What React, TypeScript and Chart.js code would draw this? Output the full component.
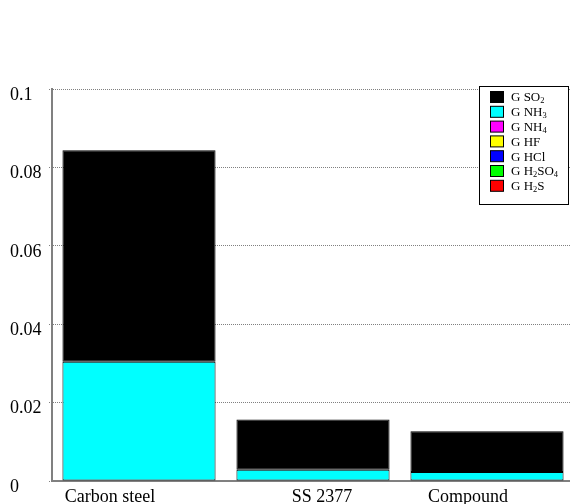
import React, { useEffect, useRef } from "react";
import { Chart, registerables } from "chart.js";

Chart.register(...registerables);

const categories = ["Carbon steel", "SS 2377", "Compound"];
const seriesLabels = ["G H2S", "G H2SO4", "G HCl", "G HF", "G NH4", "G NH3", "G SO2"];
const seriesColors = ["#ff0000", "#00ff00", "#0000ff", "#ffff00", "#ff00ff", "#00ffff", "#000000"];
const h2s = [0, 0, 0];
const h2so4 = [0, 0, 0];
const hcl = [0, 0, 0];
const hf = [0, 0, 0];
const nh4 = [0, 0, 0];
const nh3 = [0.0304, 0.0029, 0.0023];
const so2 = [0.054, 0.0128, 0.0104];
const seriesValues = [h2s, h2so4, hcl, hf, nh4, nh3, so2];
const yTicks = [0, 0.02, 0.04, 0.06, 0.08, 0.1];

const FONT = "'Liberation Serif', 'Times New Roman', serif";

// x label placement tweaks (relative to category center)
const xLabelShift = [-29, 9, -19];

function drawRich(ctx: CanvasRenderingContext2D, text: string, x: number, y: number, size: number) {
  let cx = x;
  for (const ch of text) {
    if (/[0-9]/.test(ch)) {
      ctx.font = `${size * 0.65}px ${FONT}`;
      ctx.fillText(ch, cx, y + size * 0.25);
      cx += ctx.measureText(ch).width;
    } else {
      ctx.font = `${size}px ${FONT}`;
      ctx.fillText(ch, cx, y);
      cx += ctx.measureText(ch).width;
    }
  }
}

const customPlugin = {
  id: "custom",
  afterDraw(chart: any) {
    const ctx = chart.ctx as CanvasRenderingContext2D;
    const xs = chart.scales.x;
    ctx.save();
    // x labels
    ctx.fillStyle = "#000";
    ctx.font = `18px ${FONT}`;
    ctx.textAlign = "center";
    ctx.textBaseline = "alphabetic";
    categories.forEach((c, i) => {
      const px = xs.getPixelForValue(i) + xLabelShift[i];
      ctx.fillText(c, px, chart.chartArea.bottom + 21);
    });
    // legend
    const lx = 479, ly = 86, lw = 89, lh = 118;
    ctx.fillStyle = "#fff";
    ctx.fillRect(lx, ly, lw, lh);
    ctx.strokeStyle = "#000";
    ctx.lineWidth = 1;
    ctx.strokeRect(lx + 0.5, ly + 0.5, lw, lh);
    ctx.textAlign = "left";
    ctx.textBaseline = "middle";
    const n = seriesLabels.length;
    for (let k = 0; k < n; k++) {
      const idx = n - 1 - k;
      const rowY = ly + 11 + k * 14.8;
      ctx.fillStyle = seriesColors[idx];
      ctx.fillRect(lx + 11, rowY - 5.5, 13, 11);
      ctx.strokeStyle = "#000";
      ctx.strokeRect(lx + 11.5, rowY - 5.5, 13, 11);
      ctx.fillStyle = "#000";
      drawRich(ctx, seriesLabels[idx], lx + 32, rowY + 1, 13);
    }
    ctx.restore();
  },
};

export default function App() {
  const ref = useRef<HTMLCanvasElement>(null);
  useEffect(() => {
    document.body.style.margin = "0";
    const chart = new Chart(ref.current!, {
      type: "bar",
      data: {
        labels: categories,
        datasets: seriesValues.map((vals, i) => ({
          label: seriesLabels[i],
          data: vals,
          backgroundColor: seriesColors[i],
          borderColor: "#000",
          borderWidth: (c: any) => (c.raw ? 1 : 0),
          borderSkipped: false,
          barPercentage: 0.88,
          categoryPercentage: 1,
        })),
      },
      options: {
        animation: false,
        responsive: false,
        layout: { padding: { left: 10, right: 0, top: 89, bottom: 0 } },
        plugins: { legend: { display: false }, tooltip: { enabled: false } },
        scales: {
          x: {
            stacked: true,
            grid: { display: false },
            border: { display: true, color: "#808080", width: 2 },
            ticks: { display: false },
            afterFit: (s: any) => { s.height = 23; },
          },
          y: {
            stacked: true,
            min: 0,
            max: 0.1,
            afterBuildTicks: (s: any) => { s.ticks = yTicks.map((v) => ({ value: v })); },
            grid: { color: "#808080", lineWidth: 1, tickLength: 3, drawTicks: true, tickBorderDash: [1, 1] },
            border: { display: true, color: "#808080", width: 2, dash: [1, 1] },
            ticks: {
              color: "#000",
              font: { family: FONT, size: 18 },
              crossAlign: "far",
              labelOffset: 6,
              padding: 0,
              callback: (v: any) => String(+Number(v).toFixed(2)),
            },
            afterFit: (s: any) => { s.width = 42; },
          },
        },
      },
      plugins: [customPlugin],
    } as any);
    return () => chart.destroy();
  }, []);
  return (
    <div style={{ width: 570, height: 504, overflow: "hidden" }}>
      <canvas ref={ref} width={574} height={504} style={{ display: "block" }} />
    </div>
  );
}
